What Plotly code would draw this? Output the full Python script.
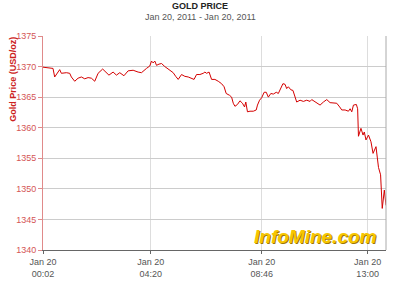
import plotly.graph_objects as go

times = ["00:02","00:18","00:26","00:30","00:34","00:42","00:46","00:58","01:06","01:10",
         "01:18","01:26","01:34","01:42","01:50","01:58","02:06","02:14","02:25","02:33",
         "02:40","02:50","02:58","03:06","03:16","03:26","03:38","03:50","03:58","04:10",
         "04:18","04:22","04:26","04:30","04:34","04:40","04:46","04:54","05:06","05:14",
         "05:20","05:26","05:34","05:42","05:50","05:58","06:04","06:10","06:18","06:26",
         "06:30","06:34","06:40","06:46","06:54","07:02","07:10","07:16","07:21","07:29",
         "07:34","07:38","07:42","07:48","07:54","08:00","08:05","08:08","08:12","08:18",
         "08:26","08:33","08:36","08:41","08:46","08:52","08:57","09:02","09:08","09:14",
         "09:21","09:26","09:30","09:37","09:42","09:46","09:50","09:56","10:01","10:06",
         "10:10","10:18","10:26","10:34","10:42","10:46","10:54","11:06","11:14","11:22",
         "11:30","11:38","11:46","11:53","11:58","12:06","12:14","12:18","12:22","12:26",
         "12:33","12:36","12:38","12:44","12:49","12:52","12:56","13:02","13:08","13:13",
         "13:16","13:20","13:23","13:26","13:31","13:35","13:40","13:44"]
prices = [1369.9,1369.8,1369.7,1368.3,1368.7,1369.5,1368.9,1369.0,1368.9,1368.3,
          1367.6,1368.1,1368.3,1368.0,1368.2,1368.1,1367.6,1368.9,1369.6,1369.0,
          1368.6,1369.1,1368.6,1369.0,1368.5,1369.3,1369.4,1369.1,1369.0,1369.7,
          1370.1,1370.9,1370.6,1370.9,1370.2,1370.4,1370.5,1370.0,1369.4,1369.0,
          1368.4,1367.9,1368.7,1368.4,1368.3,1368.0,1367.9,1368.7,1368.7,1368.9,
          1369.1,1368.9,1369.1,1367.9,1367.9,1367.6,1367.2,1366.7,1365.6,1365.3,
          1365.0,1364.0,1363.5,1363.8,1364.4,1364.0,1363.4,1364.2,1362.6,1362.7,
          1362.7,1362.9,1363.7,1364.5,1364.9,1365.8,1365.8,1365.0,1365.6,1365.5,
          1365.8,1365.6,1366.1,1367.2,1367.1,1366.4,1366.7,1366.2,1366.1,1364.8,
          1364.2,1364.5,1364.3,1364.5,1364.3,1364.6,1364.2,1363.7,1364.2,1364.6,
          1364.1,1364.1,1364.0,1363.4,1362.9,1362.9,1362.7,1363.1,1362.6,1363.7,
          1363.8,1363.1,1358.6,1359.9,1358.8,1359.3,1358.0,1358.8,1357.7,1355.8,
          1356.3,1356.9,1355.2,1353.5,1352.3,1346.8,1349.8,1347.3]

tick_times = ["00:02", "04:20", "08:46", "13:00"]
tick_labels = ["Jan 20<br>00:02", "Jan 20<br>04:20", "Jan 20<br>08:46", "Jan 20<br>13:00"]
y_ticks = [1340, 1345, 1350, 1355, 1360, 1365, 1370, 1375]

day = "2011-01-20 "
x = [day + t for t in times]

fig = go.Figure()
fig.add_trace(go.Scatter(x=x, y=prices, mode="lines",
                         line=dict(color="#d40000", width=1), hoverinfo="skip"))

font_family = "Liberation Sans, Arial, sans-serif"
fig.update_layout(
    width=400, height=286,
    margin=dict(l=43, r=14, t=36, b=36),
    paper_bgcolor="white", plot_bgcolor="white",
    showlegend=False,
    font=dict(family=font_family, size=9, color="#555555"),
    xaxis=dict(
        type="date", automargin=False,
        range=[day + "00:02", day + "13:44"],
        tickvals=[day + t for t in tick_times],
        ticktext=tick_labels,
        showgrid=True, gridcolor="#dddddd", gridwidth=1,
        showline=True, linecolor="#666666", linewidth=1,
        ticks="outside", ticklen=3, tickcolor="#666666",
        tickfont=dict(size=9, color="#555555"),
        zeroline=False, fixedrange=True,
    ),
    yaxis=dict(
        automargin=False,
        range=[1340, 1375],
        tickvals=y_ticks,
        showgrid=True, gridcolor="#cccccc", gridwidth=1,
        showline=True, linecolor="#e08a8a", linewidth=1,
        ticks="outside", ticklen=4, tickcolor="#e08a8a",
        tickfont=dict(size=9, color="#d45555"),
        zeroline=False, fixedrange=True,
    ),
    shapes=[dict(type="line", xref="paper", yref="paper", x0=1, x1=1, y0=0, y1=1,
                 line=dict(color="#aaaaaa", width=1))],
    annotations=[
        dict(text="<b>GOLD PRICE</b>", xref="paper", yref="paper", x=0.458, y=1,
             yshift=37, yanchor="top", xanchor="center", showarrow=False,
             font=dict(size=9, color="#222222")),
        dict(text="Jan 20, 2011 - Jan 20, 2011", xref="paper", yref="paper", x=0.458, y=1,
             yshift=26, yanchor="top", xanchor="center", showarrow=False,
             font=dict(size=9, color="#555555")),
        dict(text="<b>Gold Price (USD/oz)</b>", xref="paper", yref="paper", x=-0.0875, y=0.80,
             textangle=-90, xanchor="center", yanchor="middle", showarrow=False,
             font=dict(size=9, color="#cc2222")),
        dict(text="<b><i>InfoMine.com</i></b>", xref="paper", yref="paper", x=0.98, y=0.0,
             yshift=1, xanchor="right", yanchor="bottom", showarrow=False,
             font=dict(size=19, color="#f7c600", family="Liberation Sans, Arial, sans-serif",
                       shadow="1px 1px 0px #a07800")),
    ],
)

fig.write_html("out.html")
